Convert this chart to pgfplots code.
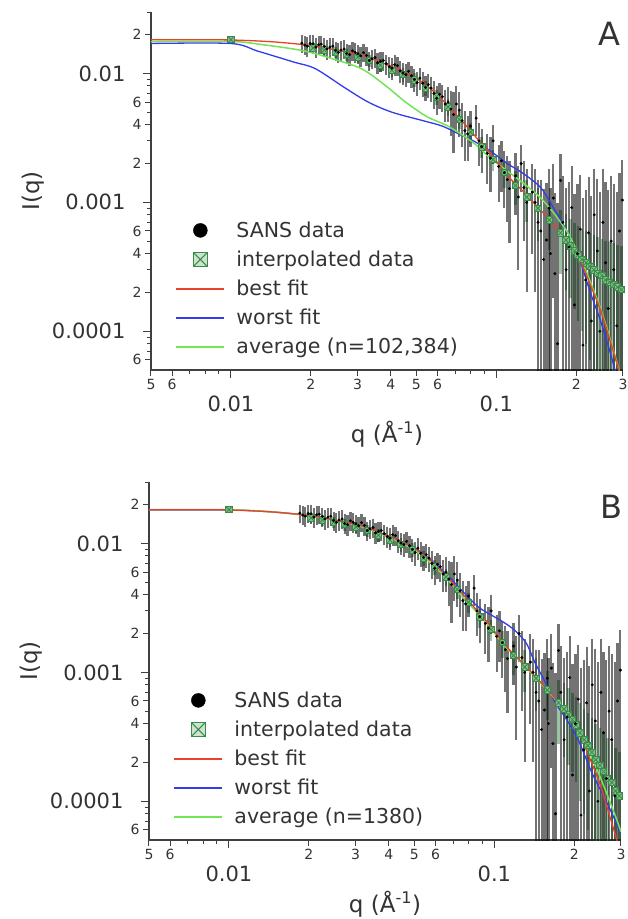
\documentclass[border=0pt]{standalone}
\usepackage{fontspec}
\setmainfont{DejaVu Sans}
\usepackage{pgfplots}
\pgfplotsset{compat=1.18}
\usepackage{pgfplotstable}

\definecolor{cred}{RGB}{235,65,40}
\definecolor{cblue}{RGB}{50,60,235}
\definecolor{cgreen}{RGB}{115,228,85}
\definecolor{cint}{RGB}{55,140,70}

\pgfdeclareplotmark{boxx}{%
  \pgfpathrectangle{\pgfpoint{-\pgfplotmarksize}{-\pgfplotmarksize}}{\pgfpoint{2\pgfplotmarksize}{2\pgfplotmarksize}}%
  \pgfusepathqfillstroke
  \pgfpathmoveto{\pgfpoint{-\pgfplotmarksize}{-\pgfplotmarksize}}\pgfpathlineto{\pgfpoint{\pgfplotmarksize}{\pgfplotmarksize}}%
  \pgfpathmoveto{\pgfpoint{-\pgfplotmarksize}{\pgfplotmarksize}}\pgfpathlineto{\pgfpoint{\pgfplotmarksize}{-\pgfplotmarksize}}%
  \pgfusepathqstroke}

\pgfplotstableread{
q I e
0.0185 0.0172 0.0028
0.0190 0.0166 0.0028
0.0194 0.0163 0.0028
0.0199 0.0171 0.0028
0.0204 0.0170 0.0028
0.0209 0.0160 0.0028
0.0214 0.0167 0.0028
0.0219 0.0169 0.0028
0.0225 0.0162 0.0027
0.0230 0.0155 0.0027
0.0236 0.0160 0.0027
0.0242 0.0163 0.0027
0.0248 0.0151 0.0026
0.0254 0.0146 0.0026
0.0260 0.0152 0.0026
0.0267 0.0155 0.0026
0.0273 0.0143 0.0025
0.0280 0.0140 0.0025
0.0287 0.0150 0.0025
0.0294 0.0146 0.0025
0.0301 0.0142 0.0024
0.0308 0.0137 0.0024
0.0316 0.0145 0.0023
0.0324 0.0138 0.0023
0.0332 0.0126 0.0022
0.0340 0.0130 0.0022
0.0349 0.0133 0.0022
0.0357 0.0121 0.0022
0.0366 0.0124 0.0022
0.0375 0.0126 0.0022
0.0385 0.0119 0.0021
0.0395 0.0113 0.0021
0.0404 0.0110 0.0021
0.0414 0.0117 0.0021
0.0424 0.0115 0.0020
0.0434 0.0105 0.0020
0.0445 0.0101 0.0020
0.0456 0.0098 0.0020
0.0467 0.0104 0.0019
0.0479 0.0096 0.0019
0.0491 0.0090 0.0018
0.0503 0.0085 0.0018
0.0515 0.0092 0.0018
0.0528 0.0084 0.0018
0.0541 0.0078 0.0017
0.0554 0.0082 0.0017
0.0568 0.0077 0.0017
0.0582 0.0070 0.0017
0.0596 0.0064 0.0016
0.0611 0.0069 0.0016
0.0626 0.0066 0.0016
0.0642 0.0058 0.0016
0.0658 0.0060 0.0018
0.0674 0.0053 0.0020
0.0690 0.0048 0.0024
0.0707 0.0058 0.0022
0.0725 0.0052 0.0020
0.0743 0.0043 0.0016
0.0761 0.0036 0.0015
0.0780 0.0034 0.0013
0.0799 0.0039 0.0012
0.0839 0.0045 0.0012
0.0860 0.0030 0.0011
0.0881 0.0027 0.0010
0.0925 0.0024 0.0010
0.0950 0.0022 0.0010
0.0972 0.0030 0.0010
0.1020 0.0019 0.0009
0.1045 0.0021 0.0009
0.1071 0.0017 0.0008
0.1100 0.0015 0.0008
0.1120 0.00128 0.0008
0.1181 0.0016 0.0008
0.1210 0.0011 0.0008
0.1240 0.0020 0.0008
0.1270 0.0013 0.0008
0.1302 0.0010 0.0008
0.1367 0.0012 0.0008
0.1400 0.0010 0.0008
0.1436 0.0007 0.0008
0.1470 0.0006 0.0009
0.1507 0.00036 0.0009
0.1545 0.00051 0.0009
0.1583 0.00090 0.0009
0.1600 0.00040 0.0009
0.1640 0.00108 0.0009
0.1662 0.00028 0.0009
0.1700 0.00008 0.0009
0.1745 0.00148 0.0009
0.1780 0.00070 0.0009
0.1832 0.00030 0.0010
0.1880 0.00045 0.0010
0.1924 0.00091 0.0010
0.1970 0.00016 0.0010
0.2020 0.00040 0.0010
0.2070 0.00062 0.0010
0.2121 0.000078 0.0010
0.2170 0.00025 0.0010
0.2227 0.00058 0.0010
0.2280 0.00012 0.0010
0.2338 0.00080 0.0010
0.2400 0.00042 0.0011
0.2455 0.00010 0.0011
0.2520 0.00070 0.0011
0.2578 0.00034 0.0011
0.2640 0.00015 0.0011
0.2707 0.00050 0.0011
0.2770 0.00030 0.0011
0.2842 0.00011 0.0011
0.2910 0.00060 0.0011
0.2984 0.00104 0.0011
}\sansdata

\pgfplotstableread{
q I e
0.0100 0.0183 0.0008
0.0204 0.0158 0.0015
0.0225 0.0152 0.0015
0.0248 0.0146 0.0015
0.0273 0.0140 0.0015
0.0301 0.0134 0.0014
0.0332 0.0126 0.0014
0.0366 0.0116 0.0013
0.0404 0.0106 0.0012
0.0445 0.0098 0.0012
0.0491 0.0089 0.0011
0.0541 0.0077 0.0010
0.0596 0.0066 0.0009
0.0658 0.0055 0.0008
0.0725 0.0044 0.0007
0.0799 0.0035 0.0006
0.0881 0.0027 0.0005
0.0972 0.00215 0.0004
0.1071 0.00170 0.0004
0.1181 0.00135 0.0004
0.1302 0.00110 0.0004
0.1436 0.00090 0.0004
0.1583 0.00073 0.0003
0.1745 0.00058 0.0003
0.1830 0.00051 0.0003
0.1900 0.00046 0.00028
0.1970 0.00042 0.00027
0.2030 0.00039 0.00027
0.2100 0.00036 0.00026
0.2180 0.00034 0.00026
0.2250 0.00032 0.00026
0.2330 0.00030 0.00026
0.2410 0.00028 0.00026
0.2500 0.00027 0.00025
0.2580 0.00025 0.00025
0.2670 0.00024 0.00025
0.2770 0.00023 0.00025
0.2860 0.00022 0.00025
0.2960 0.00021 0.00025
}\interpA

\pgfplotstableread{
q I e
0.0100 0.0183 0.0008
0.0204 0.0158 0.0015
0.0225 0.0152 0.0015
0.0248 0.0146 0.0015
0.0273 0.0140 0.0015
0.0301 0.0134 0.0014
0.0332 0.0126 0.0014
0.0366 0.0116 0.0013
0.0404 0.0106 0.0012
0.0445 0.0098 0.0012
0.0491 0.0089 0.0011
0.0541 0.0077 0.0010
0.0596 0.0066 0.0009
0.0658 0.0055 0.0008
0.0725 0.0044 0.0007
0.0799 0.0035 0.0006
0.0881 0.0027 0.0005
0.0972 0.00215 0.0004
0.1071 0.00170 0.0004
0.1181 0.00135 0.0004
0.1302 0.00110 0.0004
0.1436 0.00090 0.0004
0.1583 0.00073 0.0003
0.1745 0.00058 0.0003
0.1830 0.00052 0.0003
0.1900 0.00047 0.00028
0.1970 0.00043 0.00026
0.2030 0.00039 0.00025
0.2100 0.00034 0.00024
0.2180 0.00030 0.00022
0.2250 0.00027 0.00021
0.2330 0.00024 0.00020
0.2410 0.00021 0.00019
0.2500 0.00019 0.00018
0.2580 0.00017 0.00017
0.2670 0.00015 0.00016
0.2770 0.00014 0.00015
0.2860 0.00012 0.00014
0.2960 0.00011 0.00013
}\interpB

\pgfplotstableread{
q I
0.005 0.0183
0.008 0.0183
0.010 0.0182
0.0125 0.0179
0.015 0.0175
0.0175 0.0170
0.020 0.0165
0.025 0.0152
0.0312 0.0138
0.038 0.0119
0.0455 0.0102
0.052 0.0087
0.0587 0.0071
0.067 0.0054
0.0764 0.0040
0.085 0.0031
0.095 0.00240
0.110 0.00162
0.128 0.00118
0.147 0.00087
0.165 0.00067
0.186 0.00050
0.200 0.00040
0.213 0.00031
0.230 0.00021
0.247 0.000146
0.265 0.000092
0.287 0.000053
0.300 0.000038
}\redfit

\pgfplotstableread{
q I
0.005 0.0171
0.010 0.0171
0.0125 0.0150
0.015 0.0134
0.0174 0.0122
0.0208 0.0109
0.027 0.0077
0.0329 0.0060
0.0405 0.0050
0.053 0.0043
0.0627 0.0039
0.0742 0.0033
0.082 0.0030
0.095 0.0025
0.110 0.0020
0.126 0.00168
0.147 0.0013
0.164 0.00091
0.186 0.00058
0.205 0.00037
0.226 0.00020
0.247 0.00012
0.265 0.000075
0.280 0.000050
0.300 0.000030
}\blueA

\pgfplotstableread{
q I
0.005 0.0177
0.010 0.0177
0.013 0.0168
0.0185 0.0151
0.0233 0.0133
0.031 0.0109
0.0381 0.0081
0.0455 0.0060
0.055 0.0046
0.0658 0.0039
0.082 0.0029
0.095 0.0022
0.110 0.00175
0.128 0.00138
0.147 0.00108
0.165 0.00082
0.186 0.00058
0.200 0.00043
0.213 0.00033
0.230 0.00022
0.247 0.00015
0.265 0.000095
0.290 0.00005
0.300 0.000040
}\greenA

\pgfplotstableread{
q I
0.005 0.0182
0.010 0.0182
0.0125 0.0179
0.015 0.0175
0.020 0.0165
0.025 0.0152
0.0312 0.0138
0.038 0.0119
0.0455 0.0102
0.052 0.0088
0.0587 0.0072
0.067 0.0056
0.0764 0.0042
0.0873 0.0032
0.100 0.0027
0.110 0.0024
0.120 0.0021
0.132 0.00168
0.142 0.00120
0.155 0.00085
0.170 0.00058
0.190 0.00041
0.207 0.00030
0.232 0.000170
0.255 0.000115
0.277 0.000081
0.300 0.000056
}\blueB

\pgfplotstableread{
q I
0.005 0.0183
0.010 0.0183
0.015 0.0175
0.020 0.0164
0.025 0.0151
0.0312 0.0136
0.038 0.0117
0.0455 0.0099
0.052 0.0084
0.0587 0.0068
0.067 0.0052
0.0764 0.0038
0.085 0.0030
0.095 0.00232
0.110 0.00158
0.128 0.00116
0.147 0.00086
0.165 0.00066
0.186 0.00049
0.200 0.00040
0.213 0.00032
0.230 0.00023
0.247 0.000165
0.265 0.000115
0.287 0.000075
0.300 0.000058
}\greenB

\begin{document}
\begin{tikzpicture}
\useasboundingbox (0pt,0pt) rectangle (627pt,-919pt);

\begin{axis}[
    at={(151pt,-370pt)}, anchor=south west,
    xmode=log, ymode=log, scale only axis,
    width=472pt, height=358pt,
    xmin=0.005, xmax=0.3, ymin=5e-5, ymax=0.03,
    axis lines=left, axis line style={-, line width=1.2pt, black!75},
    tick align=outside, tick style={black!75, line width=1pt},
    major tick length=8pt, minor tick length=4pt,
    xtick={0.01,0.1}, xticklabels={0.01,0.1},
    ytick={1e-4,1e-3,1e-2}, yticklabels={0.0001,0.001,0.01},
    minor xtick={0.007,0.008,0.009,0.07,0.08,0.09},
    minor ytick={7e-5,8e-5,9e-5,3e-4,5e-4,7e-4,8e-4,9e-4,3e-3,5e-3,7e-3,8e-3,9e-3,3e-2},
    extra x ticks={0.005,0.006,0.02,0.03,0.04,0.05,0.06,0.2,0.3},
    extra x tick labels={5,6,2,3,4,5,6,2,3},
    extra y ticks={6e-5,2e-4,4e-4,6e-4,2e-3,4e-3,6e-3,2e-2},
    extra y tick labels={6,2,4,6,2,4,6,2},
    tick label style={font=\fontsize{21}{21}\selectfont, text=black!80},
    xticklabel style={yshift=-14pt},
    yticklabel style={xshift=-14pt},
    extra x tick style={major tick length=6pt, xticklabel style={yshift=14pt, font=\fontsize{14}{14}\selectfont}},
    extra y tick style={major tick length=6pt, yticklabel style={xshift=14pt, font=\fontsize{14}{14}\selectfont}},
    xlabel={q (Å\textsuperscript{-1})},
    ylabel={I(q)},
    xlabel style={at={(rel axis cs:0.5,-0.18)}, anchor=center, font=\fontsize{23}{23}\selectfont, text=black!80},
    ylabel style={at={(rel axis cs:-0.25,0.5)}, anchor=center, font=\fontsize{23}{23}\selectfont, text=black!80},
    legend cell align=left,
    legend style={draw=none, fill=none, inner sep=0pt,
      at={(rel axis cs:0.051,0.42)}, anchor=north west,
      font=\fontsize{20.5}{24}\selectfont, text=black!80,
      row sep=8pt, column sep=9pt},
  ]
\addplot[forget plot, only marks, mark=boxx, mark size=3.2pt, cint,
    mark options={fill=cint!60, line width=0.8pt},
    error bars/y dir=both, error bars/y explicit, error bars/error mark=none,
    error bars/error bar style={line width=2.6pt, cint, opacity=0.5}]
  table[x=q, y=I, y error plus=e, y error minus expr={min(\thisrow{e},0.999*\thisrow{I})}] {\interpA};
\addplot[forget plot, only marks, mark=*, mark size=1.3pt, black,
    error bars/y dir=both, error bars/y explicit, error bars/error mark=none,
    error bars/error bar style={line width=2.2pt, black, opacity=0.55}]
  table[x=q, y=I, y error plus=e, y error minus expr={min(\thisrow{e},0.999*\thisrow{I})}] {\sansdata};
\addplot[forget plot, cblue, line width=1.3pt, smooth] table[x=q, y=I] {\blueA};
\addplot[forget plot, cgreen, line width=1.5pt, smooth] table[x=q, y=I] {\greenA};
\addplot[forget plot, cred, line width=1.3pt, smooth] table[x=q, y=I] {\redfit};
\addlegendimage{legend image code/.code={\fill[black] (24pt,0pt) circle (7pt);}}
\addlegendentry{SANS data}
\addlegendimage{legend image code/.code={\draw[cint, line width=1pt, fill=cint!25] (17pt,-7pt) rectangle (31pt,7pt); \draw[cint, line width=1pt] (17pt,-7pt)--(31pt,7pt) (17pt,7pt)--(31pt,-7pt);}}
\addlegendentry{interpolated data}
\addlegendimage{legend image code/.code={\draw[cred, line width=2pt] (0pt,0pt)--(48pt,0pt);}}
\addlegendentry{best fit}
\addlegendimage{legend image code/.code={\draw[cblue, line width=2pt] (0pt,0pt)--(48pt,0pt);}}
\addlegendentry{worst fit}
\addlegendimage{legend image code/.code={\draw[cgreen, line width=2.2pt] (0pt,0pt)--(48pt,0pt);}}
\addlegendentry{average (n=102,384)}
\node[font=\fontsize{32}{32}\selectfont, text=black!80] at (rel axis cs:0.972,0.94) {A};
\end{axis}

\begin{axis}[
    at={(149pt,-840pt)}, anchor=south west,
    xmode=log, ymode=log, scale only axis,
    width=472pt, height=358pt,
    xmin=0.005, xmax=0.3, ymin=5e-5, ymax=0.03,
    axis lines=left, axis line style={-, line width=1.2pt, black!75},
    tick align=outside, tick style={black!75, line width=1pt},
    major tick length=8pt, minor tick length=4pt,
    xtick={0.01,0.1}, xticklabels={0.01,0.1},
    ytick={1e-4,1e-3,1e-2}, yticklabels={0.0001,0.001,0.01},
    minor xtick={0.007,0.008,0.009,0.07,0.08,0.09},
    minor ytick={7e-5,8e-5,9e-5,3e-4,5e-4,7e-4,8e-4,9e-4,3e-3,5e-3,7e-3,8e-3,9e-3,3e-2},
    extra x ticks={0.005,0.006,0.02,0.03,0.04,0.05,0.06,0.2,0.3},
    extra x tick labels={5,6,2,3,4,5,6,2,3},
    extra y ticks={6e-5,2e-4,4e-4,6e-4,2e-3,4e-3,6e-3,2e-2},
    extra y tick labels={6,2,4,6,2,4,6,2},
    tick label style={font=\fontsize{21}{21}\selectfont, text=black!80},
    xticklabel style={yshift=-14pt},
    yticklabel style={xshift=-14pt},
    extra x tick style={major tick length=6pt, xticklabel style={yshift=14pt, font=\fontsize{14}{14}\selectfont}},
    extra y tick style={major tick length=6pt, yticklabel style={xshift=14pt, font=\fontsize{14}{14}\selectfont}},
    xlabel={q (Å\textsuperscript{-1})},
    ylabel={I(q)},
    xlabel style={at={(rel axis cs:0.5,-0.18)}, anchor=center, font=\fontsize{23}{23}\selectfont, text=black!80},
    ylabel style={at={(rel axis cs:-0.25,0.5)}, anchor=center, font=\fontsize{23}{23}\selectfont, text=black!80},
    legend cell align=left,
    legend style={draw=none, fill=none, inner sep=0pt,
      at={(rel axis cs:0.051,0.42)}, anchor=north west,
      font=\fontsize{20.5}{24}\selectfont, text=black!80,
      row sep=8pt, column sep=9pt},
  ]
\addplot[forget plot, only marks, mark=boxx, mark size=3.2pt, cint,
    mark options={fill=cint!60, line width=0.8pt},
    error bars/y dir=both, error bars/y explicit, error bars/error mark=none,
    error bars/error bar style={line width=2.6pt, cint, opacity=0.5}]
  table[x=q, y=I, y error plus=e, y error minus expr={min(\thisrow{e},0.999*\thisrow{I})}] {\interpB};
\addplot[forget plot, only marks, mark=*, mark size=1.3pt, black,
    error bars/y dir=both, error bars/y explicit, error bars/error mark=none,
    error bars/error bar style={line width=2.2pt, black, opacity=0.55}]
  table[x=q, y=I, y error plus=e, y error minus expr={min(\thisrow{e},0.999*\thisrow{I})}] {\sansdata};
\addplot[forget plot, cblue, line width=1.3pt, smooth] table[x=q, y=I] {\blueB};
\addplot[forget plot, cgreen, line width=1.5pt, smooth] table[x=q, y=I] {\greenB};
\addplot[forget plot, cred, line width=1.3pt, smooth] table[x=q, y=I] {\redfit};
\addlegendimage{legend image code/.code={\fill[black] (24pt,0pt) circle (7pt);}}
\addlegendentry{SANS data}
\addlegendimage{legend image code/.code={\draw[cint, line width=1pt, fill=cint!25] (17pt,-7pt) rectangle (31pt,7pt); \draw[cint, line width=1pt] (17pt,-7pt)--(31pt,7pt) (17pt,7pt)--(31pt,-7pt);}}
\addlegendentry{interpolated data}
\addlegendimage{legend image code/.code={\draw[cred, line width=2pt] (0pt,0pt)--(48pt,0pt);}}
\addlegendentry{best fit}
\addlegendimage{legend image code/.code={\draw[cblue, line width=2pt] (0pt,0pt)--(48pt,0pt);}}
\addlegendentry{worst fit}
\addlegendimage{legend image code/.code={\draw[cgreen, line width=2.2pt] (0pt,0pt)--(48pt,0pt);}}
\addlegendentry{average (n=1380)}
\node[font=\fontsize{32}{32}\selectfont, text=black!80] at (rel axis cs:0.979,0.93) {B};
\end{axis}
\end{tikzpicture}
\end{document}
